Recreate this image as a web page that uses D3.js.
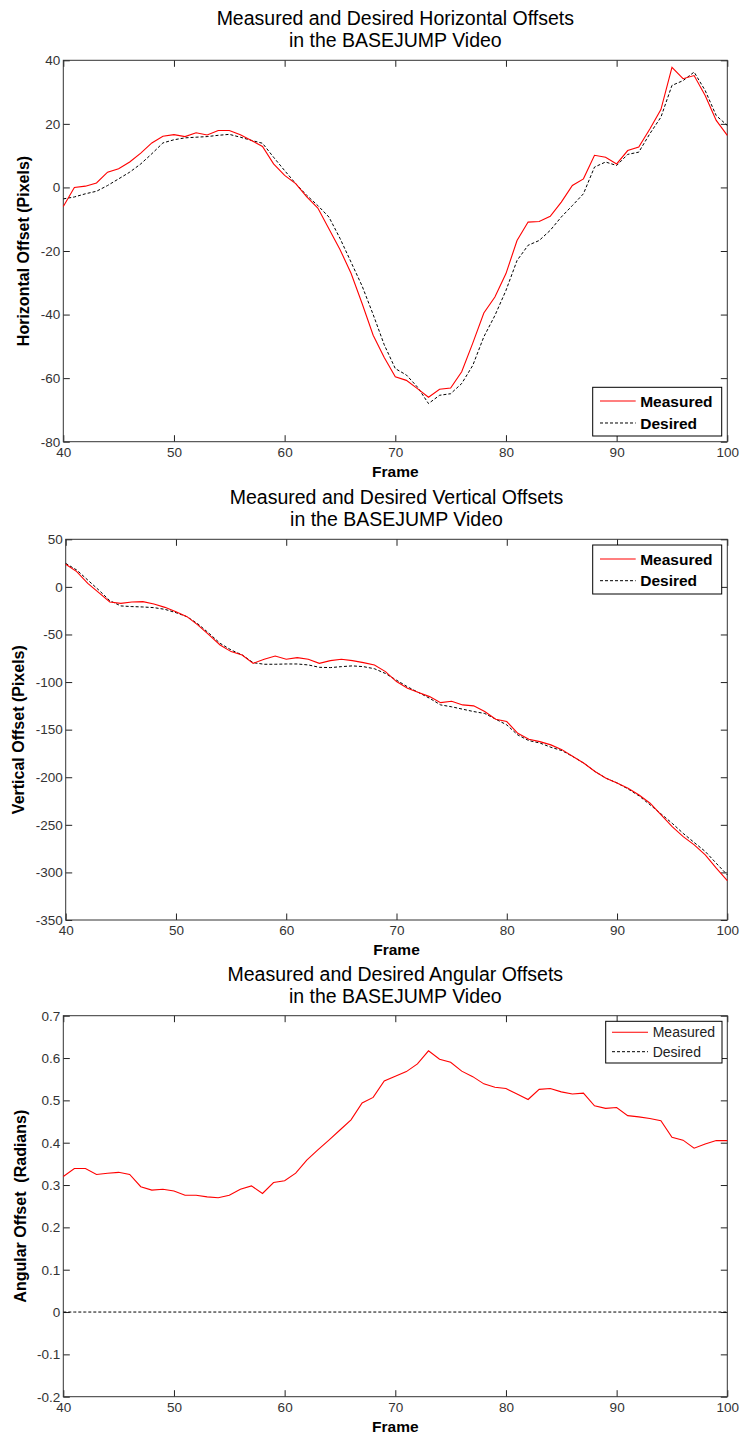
<!DOCTYPE html>
<html>
<head>
<meta charset="utf-8">
<script src="https://cdn.jsdelivr.net/npm/d3@7"></script>
<style>
  body { margin: 0; background: #fff; }
  text { font-family: "Liberation Sans", Arial, Helvetica, sans-serif; }
</style>
</head>
<body>
<div id="container"></div>
<script>
// Frames on the x axis
var frames = d3.range(40, 101);

// Horizontal offsets (pixels)
var hMeasured = [-6.0, 0.0, 0.4, 1.4, 4.8, 5.9, 8.0, 10.8, 14.0, 16.1,
  16.6, 16.0, 17.2, 16.5, 17.9, 17.9, 16.6, 14.8, 12.9, 7.4,
  3.8, 1.2, -3.0, -6.5, -13.0, -19.5, -27.0, -36.5, -46.5, -53.5,
  -59.6, -60.7, -63.3, -66.0, -63.5, -63.1, -58.0, -49.0, -39.5, -34.5,
  -27.1, -16.7, -10.9, -10.7, -9.1, -4.6, 0.6, 2.7, 10.1, 9.5,
  7.4, 11.6, 12.7, 18.4, 24.5, 37.8, 34.2, 35.2, 28.9, 21.1, 16.4];
var hDesired = [-3.6, -3.0, -2.0, -1.2, 0.6, 2.7, 4.8, 7.4, 10.6, 14.0,
  15.0, 15.6, 15.8, 16.0, 16.4, 16.7, 15.8, 14.8, 13.9, 9.5,
  5.3, 1.2, -2.5, -5.7, -9.3, -16.0, -23.5, -31.0, -40.0, -49.5,
  -57.0, -59.0, -62.8, -68.0, -65.4, -64.9, -61.7, -56.0, -47.0, -40.3,
  -32.4, -23.0, -18.2, -16.7, -13.5, -9.3, -5.7, -2.0, 6.4, 8.0,
  6.9, 10.4, 11.1, 16.9, 22.1, 32.1, 33.6, 36.3, 30.5, 22.6, 19.5];

// Vertical offsets (pixels)
var vMeasured = [23.7, 16.0, 3.7, -6.1, -15.9, -17.3, -15.9, -15.5, -18.0, -21.5,
  -26.0, -31.3, -40.1, -50.5, -61.0, -68.0, -71.5, -80.3, -76.0, -72.6,
  -76.0, -74.3, -76.0, -80.3, -77.5, -76.0, -77.5, -79.6, -82.0, -89.0,
  -99.5, -106.5, -111.0, -115.3, -121.6, -120.2, -124.0, -125.0, -131.0, -139.0,
  -141.5, -153.8, -160.0, -162.6, -166.0, -171.0, -178.3, -185.3, -194.0, -201.0,
  -206.0, -211.6, -218.6, -227.3, -239.6, -252.0, -262.4, -271.0, -281.6, -295.6, -308.6];
var vDesired = [24.7, 17.7, 7.2, -3.3, -14.5, -20.0, -20.7, -21.1, -21.8, -23.6,
  -27.1, -31.3, -39.0, -48.8, -59.3, -66.3, -71.5, -79.6, -81.3, -81.3,
  -81.0, -81.0, -82.0, -84.5, -84.8, -83.8, -83.0, -83.8, -86.0, -91.0,
  -98.0, -105.0, -111.0, -117.0, -124.0, -126.0, -128.5, -131.0, -133.0, -139.0,
  -145.0, -155.6, -161.5, -164.0, -168.5, -172.0, -178.3, -185.3, -194.0, -201.0,
  -206.0, -212.3, -219.6, -229.0, -238.6, -248.4, -259.0, -268.6, -278.0, -290.4, -302.6];

// Angular offsets (radians)
var aMeasured = [0.320, 0.339, 0.339, 0.325, 0.328, 0.330, 0.325, 0.296, 0.288, 0.290,
  0.286, 0.276, 0.276, 0.272, 0.270, 0.276, 0.290, 0.298, 0.280, 0.306,
  0.310, 0.328, 0.359, 0.383, 0.406, 0.430, 0.454, 0.494, 0.507, 0.546,
  0.557, 0.568, 0.586, 0.617, 0.597, 0.590, 0.569, 0.556, 0.539, 0.531,
  0.528, 0.515, 0.502, 0.526, 0.528, 0.520, 0.515, 0.517, 0.487, 0.481,
  0.483, 0.464, 0.461, 0.457, 0.452, 0.413, 0.406, 0.387, 0.397, 0.405, 0.405];
var aDesired = [0, 0, 0, 0, 0, 0, 0, 0, 0, 0,
  0, 0, 0, 0, 0, 0, 0, 0, 0, 0,
  0, 0, 0, 0, 0, 0, 0, 0, 0, 0,
  0, 0, 0, 0, 0, 0, 0, 0, 0, 0,
  0, 0, 0, 0, 0, 0, 0, 0, 0, 0,
  0, 0, 0, 0, 0, 0, 0, 0, 0, 0, 0];

// Ticks
var xTicks = [40, 50, 60, 70, 80, 90, 100];
var hTicks = [40, 20, 0, -20, -40, -60, -80];
var vTicks = [50, 0, -50, -100, -150, -200, -250, -300, -350];
var aTicks = [0.7, 0.6, 0.5, 0.4, 0.3, 0.2, 0.1, 0, -0.1, -0.2];

var seriesNames = ["Measured", "Desired"];

var svg = d3.select("#container")
  .append("svg")
  .attr("width", 743)
  .attr("height", 1439);

svg.append("rect").attr("width", 743).attr("height", 1439).attr("fill", "#fff");

function drawPanel(p) {
  var x = d3.scaleLinear().domain([40, 100]).range([p.left, p.right]);
  var y = d3.scaleLinear().domain(p.yDomain).range([p.bottom, p.top]);
  var g = svg.append("g");
  var tick = 6.5;

  // axes (ticks pointing inward, MATLAB style)
  var bottom = g.append("g")
    .attr("transform", "translate(0," + p.bottom + ")")
    .call(d3.axisBottom(x).tickValues(xTicks).tickSizeInner(-tick).tickSizeOuter(0).tickPadding(5));
  g.append("g")
    .attr("transform", "translate(0," + p.top + ")")
    .call(d3.axisTop(x).tickValues(xTicks).tickSizeInner(-tick).tickSizeOuter(0).tickFormat(""));
  g.append("g")
    .attr("transform", "translate(" + p.left + ",0)")
    .call(d3.axisLeft(y).tickValues(p.yTicks).tickSizeInner(-tick).tickSizeOuter(0).tickPadding(3)
      .tickFormat(function(d) { return String(+d.toFixed(1)); }));
  g.append("g")
    .attr("transform", "translate(" + p.right + ",0)")
    .call(d3.axisRight(y).tickValues(p.yTicks).tickSizeInner(-tick).tickSizeOuter(0).tickFormat(""));

  g.selectAll(".domain").remove();
  g.selectAll(".tick line").attr("stroke", "#222").attr("stroke-width", 1);
  g.selectAll(".tick text")
    .attr("font-size", 13.5)
    .attr("fill", "#333")
    .attr("font-family", "'Liberation Sans', Arial, sans-serif");
  bottom.selectAll(".tick text").attr("dy", "0.75em");

  // box
  g.append("rect")
    .attr("x", p.left).attr("y", p.top)
    .attr("width", p.right - p.left).attr("height", p.bottom - p.top)
    .attr("fill", "none")
    .attr("stroke", "#333")
    .attr("stroke-width", 1);

  // lines
  var line = d3.line()
    .x(function(d, i) { return x(frames[i]); })
    .y(function(d) { return y(d); });

  g.append("path")
    .datum(p.desired)
    .attr("d", line)
    .attr("fill", "none")
    .attr("stroke", "#000")
    .attr("stroke-width", 1)
    .attr("stroke-dasharray", "3,2");

  g.append("path")
    .datum(p.measured)
    .attr("d", line)
    .attr("fill", "none")
    .attr("stroke", "#ff0000")
    .attr("stroke-width", 1.1);

  // title
  var cx = (p.left + p.right) / 2;
  g.append("text")
    .text(p.title)
    .attr("x", cx).attr("y", p.top - 35)
    .attr("text-anchor", "middle")
    .attr("font-size", 19.5)
    .attr("fill", "#000");
  g.append("text")
    .text("in the BASEJUMP Video")
    .attr("x", cx).attr("y", p.top - 13)
    .attr("text-anchor", "middle")
    .attr("font-size", 19.5)
    .attr("fill", "#000");

  // axis labels
  g.append("text")
    .text("Frame")
    .attr("x", cx).attr("y", p.bottom + 35)
    .attr("text-anchor", "middle")
    .attr("font-weight", "bold")
    .attr("font-size", 15.5)
    .attr("fill", "#000");
  g.append("text")
    .text(p.yLabel)
    .attr("transform", "translate(" + p.yLabelX + "," + ((p.top + p.bottom) / 2) + ") rotate(-90)")
    .attr("text-anchor", "middle")
    .attr("dy", "0.35em")
    .attr("font-weight", "bold")
    .attr("font-size", 16)
    .attr("fill", "#000")
    .style("white-space", "pre");

  // legend
  var L = p.legend;
  var leg = g.append("g").attr("transform", "translate(" + L.x + "," + L.y + ")");
  leg.append("rect")
    .attr("width", L.w).attr("height", L.h)
    .attr("fill", "#fff")
    .attr("stroke", "#000")
    .attr("stroke-width", 1);
  seriesNames.forEach(function(name, i) {
    var ry = L.rows[i];
    leg.append("line")
      .attr("x1", L.lineX[0]).attr("x2", L.lineX[1])
      .attr("y1", ry).attr("y2", ry)
      .attr("stroke", i === 0 ? "#ff0000" : "#000")
      .attr("stroke-width", i === 0 ? 1.1 : 1)
      .attr("stroke-dasharray", i === 0 ? null : "3,2");
    leg.append("text")
      .text(name)
      .attr("x", L.textX).attr("y", ry)
      .attr("dy", "0.36em")
      .attr("font-size", L.fontSize)
      .attr("font-weight", L.bold ? "bold" : "normal")
      .attr("fill", L.bold ? "#000" : "#222");
  });
}

drawPanel({
  left: 63.3, right: 727.3, top: 60.3, bottom: 441.7,
  yDomain: [-80, 40], yTicks: hTicks,
  measured: hMeasured, desired: hDesired,
  title: "Measured and Desired Horizontal Offsets",
  yLabel: "Horizontal Offset (Pixels)", yLabelX: 23,
  legend: { x: 592.7, y: 387.3, w: 129, h: 48.7, rows: [13.7, 35.7],
            lineX: [7.3, 43], textX: 47.5, fontSize: 15.5, bold: true }
});

drawPanel({
  left: 65.7, right: 727.3, top: 539.3, bottom: 920,
  yDomain: [-350, 50], yTicks: vTicks,
  measured: vMeasured, desired: vDesired,
  title: "Measured and Desired Vertical Offsets",
  yLabel: "Vertical Offset (Pixels)", yLabelX: 18.5,
  legend: { x: 592.7, y: 545, w: 129, h: 49, rows: [14, 35.7],
            lineX: [7.3, 43], textX: 47.5, fontSize: 15.5, bold: true }
});

drawPanel({
  left: 63.3, right: 727.3, top: 1015.7, bottom: 1396.7,
  yDomain: [-0.2, 0.7], yTicks: aTicks,
  measured: aMeasured, desired: aDesired,
  title: "Measured and Desired Angular Offsets",
  yLabel: "Angular Offset  (Radians)", yLabelX: 20,
  legend: { x: 605.7, y: 1021.3, w: 116.3, h: 41.7, rows: [11, 30.4],
            lineX: [6.3, 42.3], textX: 47, fontSize: 14, bold: false }
});
</script>
</body>
</html>
